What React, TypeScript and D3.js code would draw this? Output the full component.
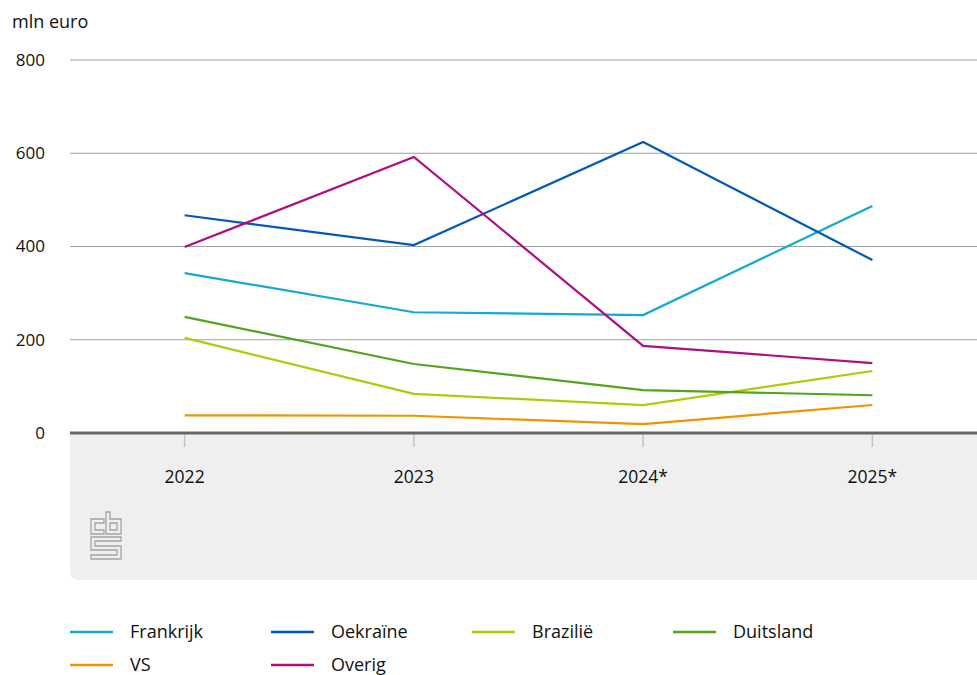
import React from "react";
import * as d3 from "d3";

const years = ["2022", "2023", "2024*", "2025*"];
const frankrijk = [343, 259, 253, 487];
const oekraine = [467, 403, 624, 371];
const brazilie = [204, 84, 60, 133];
const duitsland = [249, 148, 92, 81];
const vs = [38, 37, 19, 60];
const overig = [399, 592, 187, 150];
const yTicks = [0, 200, 400, 600, 800];

const series = [
  { name: "Frankrijk", color: "#14a8d5", values: frankrijk },
  { name: "Oekraïne", color: "#0058b8", values: oekraine },
  { name: "Brazilië", color: "#afcb05", values: brazilie },
  { name: "Duitsland", color: "#53a31d", values: duitsland },
  { name: "VS", color: "#f39200", values: vs },
  { name: "Overig", color: "#af0e80", values: overig },
];

const W = 977;
const H = 675;
const font = "'Open Sans', sans-serif";

export default function App() {
  const ref = React.useRef<SVGSVGElement | null>(null);

  React.useEffect(() => {
    if (!ref.current) return;
    const svg = d3.select(ref.current);
    svg.selectAll("*").remove();

    const left = 70;
    const right = 977;
    const top = 60;
    const bottom = 433;

    const x = d3.scalePoint<string>().domain(years).range([left, 987]).padding(0.5);
    const y = d3.scaleLinear().domain([0, 800]).range([bottom, top]);

    // grey panel under the axis
    const pb = 580;
    const r = 9;
    svg
      .append("path")
      .attr("d", `M${left},${bottom} H${right} V${pb} H${left + r} Q${left},${pb} ${left},${pb - r} Z`)
      .attr("fill", "#efefef");

    // gridlines
    svg
      .append("g")
      .selectAll("line")
      .data(yTicks.filter(t => t > 0))
      .join("line")
      .attr("x1", left)
      .attr("x2", right)
      .attr("y1", d => y(d))
      .attr("y2", d => y(d))
      .attr("stroke", "#a0a0a0")
      .attr("stroke-width", 1);

    svg
      .append("g")
      .selectAll("text")
      .data(yTicks)
      .join("text")
      .attr("x", 45)
      .attr("y", d => y(d))
      .attr("dy", "0.35em")
      .attr("text-anchor", "end")
      .attr("font-family", font)
      .attr("font-size", 17)
      .attr("fill", "#111")
      .text(d => d);

    svg
      .append("text")
      .attr("x", 12)
      .attr("y", 28)
      .attr("font-family", font)
      .attr("font-size", 18)
      .attr("fill", "#111")
      .text("mln euro");

    // x ticks
    const xt = svg.append("g");
    xt.selectAll("line")
      .data(years)
      .join("line")
      .attr("x1", d => x(d)!)
      .attr("x2", d => x(d)!)
      .attr("y1", bottom)
      .attr("y2", bottom + 14)
      .attr("stroke", "#c4c4c4")
      .attr("stroke-width", 1.5);
    xt.selectAll("text")
      .data(years)
      .join("text")
      .attr("x", d => x(d)!)
      .attr("y", 477)
      .attr("dy", "0.35em")
      .attr("text-anchor", "middle")
      .attr("font-family", font)
      .attr("font-size", 17.5)
      .attr("fill", "#111")
      .text(d => d);

    // lines
    const line = d3
      .line<number>()
      .x((_, i) => x(years[i])!)
      .y(d => y(d));
    series.forEach(s => {
      svg
        .append("path")
        .datum(s.values)
        .attr("fill", "none")
        .attr("stroke", s.color)
        .attr("stroke-width", 2.2)
        .attr("d", line);
    });

    // zero axis
    svg
      .append("line")
      .attr("x1", left)
      .attr("x2", right)
      .attr("y1", y(0))
      .attr("y2", y(0))
      .attr("stroke", "#666")
      .attr("stroke-width", 3);

    // cbs logo
    const logo = svg
      .append("g")
      .attr("transform", "translate(90,512)")
      .attr("fill", "none")
      .attr("stroke", "#a4a4a4")
      .attr("stroke-width", 1.3);
    logo.append("path").attr("d", "M14,7 H1 V22 H14 V18 H5 V11 H14 Z");
    logo.append("path").attr("d", "M16,0 V22 H31 V7 H20 V0 Z M20,11 H27 V18 H20 Z");
    logo.append("path").attr("d", "M1,25 H31 V29 H5 V34 H31 V47 H1 V43 H27 V38 H1 Z");

    // legend
    const lg = svg.append("g");
    series.forEach((s, i) => {
      const lx = left + (i % 4) * 201;
      const ly = i < 4 ? 632 : 665;
      lg.append("line")
        .attr("x1", lx)
        .attr("x2", lx + 43)
        .attr("y1", ly)
        .attr("y2", ly)
        .attr("stroke", s.color)
        .attr("stroke-width", 2.5);
      lg.append("text")
        .attr("x", lx + 60)
        .attr("y", ly)
        .attr("dy", "0.35em")
        .attr("font-family", font)
        .attr("font-size", 18)
        .attr("fill", "#111")
        .text(s.name);
    });
  }, []);

  return (
    <svg
      ref={ref}
      width={W}
      height={H}
      style={{ position: "absolute", left: 0, top: 0, display: "block" }}
    ></svg>
  );
}
